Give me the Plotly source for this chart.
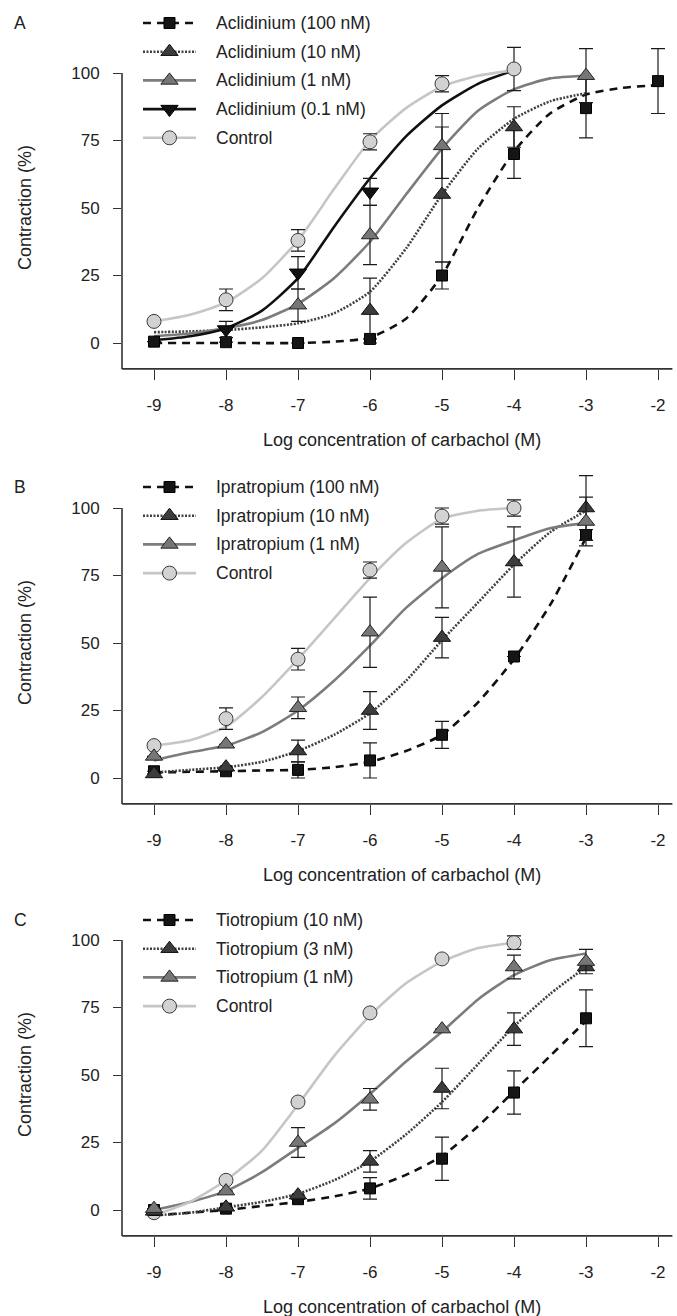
import plotly.graph_objects as go

W, H = 677, 1316

# ------------------------------------------------------------------ data
tick_x_vals = [-9, -8, -7, -6, -5, -4, -3, -2]
tick_x_text = ["-9", "-8", "-7", "-6", "-5", "-4", "-3", "-2"]
tick_y_vals = [0, 25, 50, 75, 100]
tick_y_text = ["0", "25", "50", "75", "100"]
x_title = "Log concentration of carbachol (M)"
y_title = "Contraction (%)"
panel_letters = ["A", "B", "C"]

# Panel A – Aclidinium
A_labels = ["Aclidinium (100 nM)", "Aclidinium (10 nM)", "Aclidinium (1 nM)",
            "Aclidinium (0.1 nM)", "Control"]
A_100_x = [-9, -8, -7, -6, -5, -4, -3, -2]
A_100_y = [0.5, 0.3, 0, 1.5, 25, 70, 87, 97]
A_100_e = [0, 0, 0, 0, 5, 9, 11, 12]
A_10_x = [-6, -5, -4]
A_10_y = [12, 55, 80]
A_10_e = [12, 25, 7.5]
A_1_x = [-7, -6, -5, -3]
A_1_y = [14, 40, 73, 99]
A_1_e = [6, 11, 12, 10]
A_01_x = [-8, -7, -6]
A_01_y = [5, 26, 56]
A_01_e = [3, 6, 5]
A_c_x = [-9, -8, -7, -6, -5, -4]
A_c_y = [8, 16, 38, 74.5, 96, 101.5]
A_c_e = [0, 4, 4, 3, 3, 8]
# fitted curves
A_100_cx = [-9, -8, -7, -6.5, -6, -5.5, -5, -4.5, -4, -3.5, -3, -2.5, -2]
A_100_cy = [0, 0, 0, 0.5, 2, 9, 25, 50, 71, 85, 92, 94.5, 95.5]
A_10_cx = [-9, -8.5, -8, -7.5, -7, -6.5, -6, -5.5, -5, -4.5, -4, -3.5, -3]
A_10_cy = [4, 4.3, 4.8, 5.8, 7.3, 11, 19, 35, 55, 72, 83, 89.5, 92.5]
A_1_cx = [-9, -8.5, -8, -7.5, -7, -6.5, -6, -5.5, -5, -4.5, -4, -3.5, -3]
A_1_cy = [2.5, 3.5, 5.5, 8.5, 14.5, 24, 37.5, 55, 72, 86, 94, 98, 99]
A_01_cx = [-9, -8.5, -8, -7.5, -7, -6.5, -6, -5.5, -5, -4.5, -4]
A_01_cy = [1, 2.5, 5.5, 12, 24, 43, 61, 76.5, 88, 96, 101]
A_c_cx = [-9, -8.5, -8, -7.5, -7, -6.5, -6, -5.5, -5, -4.5, -4]
A_c_cy = [8, 10.5, 15, 24, 38, 57, 75, 87, 95, 99, 101]

# Panel B – Ipratropium
B_labels = ["Ipratropium (100 nM)", "Ipratropium (10 nM)", "Ipratropium (1 nM)", "Control"]
B_100_x = [-9, -8, -7, -6, -5, -4, -3]
B_100_y = [2.5, 2.5, 3, 6.5, 16, 45, 90]
B_100_e = [0, 0, 3, 6.5, 5, 0, 2]
B_10_x = [-9, -8, -7, -6, -5, -4, -3]
B_10_y = [1.5, 4, 10, 25, 52, 80, 100]
B_10_e = [0, 0, 4, 7, 7.5, 13, 12]
B_1_x = [-9, -8, -7, -6, -5, -3]
B_1_y = [8, 12.5, 26, 54, 78, 95]
B_1_e = [0, 0, 4, 13, 15, 9]
B_c_x = [-9, -8, -7, -6, -5, -4]
B_c_y = [12, 22, 44, 77, 97, 100]
B_c_e = [0, 4, 4, 3, 3, 3]
B_100_cx = [-9, -8.5, -8, -7.5, -7, -6.5, -6, -5.5, -5, -4.5, -4, -3.5, -3]
B_100_cy = [2, 2.3, 2.5, 2.8, 3, 4, 6, 10, 16, 28, 44, 64, 89]
B_10_cx = [-9, -8.5, -8, -7.5, -7, -6.5, -6, -5.5, -5, -4.5, -4, -3.5, -3]
B_10_cy = [2, 3, 4, 6, 10, 16, 24, 36, 51, 65, 79, 91, 99]
B_1_cx = [-9, -8.5, -8, -7.5, -7, -6.5, -6, -5.5, -5, -4.5, -4, -3.5, -3]
B_1_cy = [6.5, 9.5, 12, 17, 25, 36, 49, 63, 74, 83, 88, 92.5, 94.5]
B_c_cx = [-9, -8.5, -8, -7.5, -7, -6.5, -6, -5.5, -5, -4.5, -4]
B_c_cy = [12, 14, 19, 30, 44, 59, 74, 87, 96, 99, 100]

# Panel C – Tiotropium
C_labels = ["Tiotropium (10 nM)", "Tiotropium (3 nM)", "Tiotropium (1 nM)", "Control"]
C_10_x = [-9, -8, -7, -6, -5, -4, -3]
C_10_y = [0, 0.5, 4, 8, 19, 43.5, 71]
C_10_e = [0, 0, 0, 4, 8, 8, 10.5]
C_3_x = [-9, -8, -7, -6, -5, -4, -3]
C_3_y = [-0.5, 1, 5.5, 18, 45, 67, 90]
C_3_e = [0, 0, 0, 4, 7.5, 6, 0]
C_1_x = [-9, -8, -7, -6, -5, -4, -3]
C_1_y = [0.5, 7, 25, 41, 67, 90, 92]
C_1_e = [0, 0, 5.5, 4, 0, 4.4, 4.5]
C_c_x = [-9, -8, -7, -6, -5, -4]
C_c_y = [-1, 11, 40, 73, 93, 99]
C_c_e = [0, 0, 0, 0, 0, 2.5]
C_10_cx = [-9, -8.5, -8, -7.5, -7, -6.5, -6, -5.5, -5, -4.5, -4, -3.5, -3]
C_10_cy = [-2, -1, 0, 1.5, 3, 5, 8, 13, 20, 31, 44, 57, 70]
C_3_cx = [-9, -8.5, -8, -7.5, -7, -6.5, -6, -5.5, -5, -4.5, -4, -3.5, -3]
C_3_cy = [-2, -1, 1, 3, 6, 11, 18, 28, 40, 54, 68, 80, 90]
C_1_cx = [-9, -8.5, -8, -7.5, -7, -6.5, -6, -5.5, -5, -4.5, -4, -3.5, -3]
C_1_cy = [0, 3, 7, 14, 23, 32, 43, 55, 66, 78, 87, 92.5, 95]
C_c_cx = [-9, -8.5, -8, -7.5, -7, -6.5, -6, -5.5, -5, -4.5, -4]
C_c_cy = [-2, 3, 11, 22, 39, 57, 72, 84, 92, 97, 99]

# ------------------------------------------------------------------ styles
FONT = "Liberation Sans, Arial, Helvetica, sans-serif"
FS_TICK = 17
FS_LEG = 17.5
FS_TITLE = 18
TXT = "#222222"
AX = "#333333"
EB = "#1a1a1a"

ST = {
    "sq":   dict(line=dict(color="#111111", width=2.6, dash="8px,6px"),
                 marker=dict(symbol="square", size=11, color="#151515", line=dict(color="#000", width=1))),
    "dtri": dict(line=dict(color="#404040", width=2.6, dash="2px,1.5px"),
                 marker=dict(symbol="triangle-up", size=15, color="#3c3c3c", line=dict(color="#111", width=1))),
    "gtri": dict(line=dict(color="#7c7c7c", width=2.6),
                 marker=dict(symbol="triangle-up", size=15, color="#767676", line=dict(color="#222", width=1))),
    "btri": dict(line=dict(color="#111111", width=2.6),
                 marker=dict(symbol="triangle-down", size=15, color="#111111", line=dict(color="#000", width=1))),
    "circ": dict(line=dict(color="#c6c6c6", width=2.6),
                 marker=dict(symbol="circle", size=14, color="#d2d2d2", line=dict(color="#3a3a3a", width=1))),
}

panels = [
    dict(labels=A_labels,
         series=[("sq", A_100_cx, A_100_cy, A_100_x, A_100_y, A_100_e),
                 ("dtri", A_10_cx, A_10_cy, A_10_x, A_10_y, A_10_e),
                 ("gtri", A_1_cx, A_1_cy, A_1_x, A_1_y, A_1_e),
                 ("btri", A_01_cx, A_01_cy, A_01_x, A_01_y, A_01_e),
                 ("circ", A_c_cx, A_c_cy, A_c_x, A_c_y, A_c_e)]),
    dict(labels=B_labels,
         series=[("sq", B_100_cx, B_100_cy, B_100_x, B_100_y, B_100_e),
                 ("dtri", B_10_cx, B_10_cy, B_10_x, B_10_y, B_10_e),
                 ("gtri", B_1_cx, B_1_cy, B_1_x, B_1_y, B_1_e),
                 ("circ", B_c_cx, B_c_cy, B_c_x, B_c_y, B_c_e)]),
    dict(labels=C_labels,
         series=[("sq", C_10_cx, C_10_cy, C_10_x, C_10_y, C_10_e),
                 ("dtri", C_3_cx, C_3_cy, C_3_x, C_3_y, C_3_e),
                 ("gtri", C_1_cx, C_1_cy, C_1_x, C_1_y, C_1_e),
                 ("circ", C_c_cx, C_c_cy, C_c_x, C_c_y, C_c_e)]),
]

# ------------------------------------------------------------------ layout geometry (pixels)
X_AXIS_PX = 122        # y-axis line position
X9_PX = 154            # position of x = -9
DEC_PX = 72            # pixels per decade
X_END = -1.8           # x-axis line end
P100 = [73, 508, 940]  # pixel of y = 100 per panel
KY = 2.7               # pixels per % unit
YMIN, YMAX = -9.6, 115
LEG_X0, LEG_X1, LEG_TX = 143, 196, 214
LEG_DY = 28.7
LEG_Y0 = [23, 487, 920]
LETTER_X = 20
XTITLE_CX = 402

xmin = -9 - (X9_PX - X_AXIS_PX) / DEC_PX
xmax = xmin + (W - X_AXIS_PX) / DEC_PX


def px(x):
    return x / W


def py(y):
    return 1 - y / H


fig = go.Figure()
annotations = []
shapes = []

for i, pan in enumerate(panels):
    n = "" if i == 0 else str(i + 1)
    xa, ya = "x" + n, "y" + n
    p100 = P100[i]
    bot = p100 + (100 - YMIN) * KY
    top = p100 - (YMAX - 100) * KY

    fig.update_layout(**{
        "xaxis" + n: dict(domain=[px(X_AXIS_PX), 1], range=[xmin, xmax], anchor=ya,
                          showgrid=False, zeroline=False, showline=False,
                          tickmode="array", tickvals=tick_x_vals, ticktext=tick_x_text,
                          ticks="outside", ticklen=10, tickwidth=1.3, tickcolor=AX,
                          ticklabelstandoff=11,
                          tickfont=dict(family=FONT, size=FS_TICK, color=TXT)),
        "yaxis" + n: dict(domain=[py(bot), py(top)], range=[YMIN, YMAX], anchor=xa,
                          showgrid=False, zeroline=False, showline=False,
                          tickmode="array", tickvals=tick_y_vals, ticktext=tick_y_text,
                          ticks="outside", ticklen=8, tickwidth=1.3, tickcolor=AX,
                          ticklabelstandoff=10,
                          tickfont=dict(family=FONT, size=FS_TICK, color=TXT)),
    })

    # fitted curves
    for key, cx, cy, x, y, e in pan["series"]:
        fig.add_trace(go.Scatter(x=cx, y=cy, mode="lines",
                                 line=dict(ST[key]["line"], shape="spline", smoothing=0.6),
                                 xaxis=xa, yaxis=ya, showlegend=False, hoverinfo="skip"))
    # points with error bars (control first, so treated series sit on top)
    order = [len(pan["series"]) - 1] + list(range(len(pan["series"]) - 1))
    for j in order:
        key, cx, cy, x, y, e = pan["series"][j]
        fig.add_trace(go.Scatter(x=x, y=y, mode="markers", marker=ST[key]["marker"],
                                 error_y=dict(type="data", array=e, visible=True, color=EB,
                                              thickness=1.2, width=7),
                                 xaxis=xa, yaxis=ya, showlegend=False, cliponaxis=False))

    # axis lines (L-shaped frame, y-axis stops at 100)
    x_end_px = X9_PX + (X_END + 9) * DEC_PX
    shapes.append(dict(type="line", xref="paper", yref="paper",
                       x0=px(X_AXIS_PX), x1=px(X_AXIS_PX), y0=py(bot), y1=py(p100),
                       line=dict(color=AX, width=1.6)))
    shapes.append(dict(type="line", xref="paper", yref="paper",
                       x0=px(X_AXIS_PX), x1=px(x_end_px), y0=py(bot), y1=py(bot),
                       line=dict(color=AX, width=1.6)))

    # axis titles and panel letter
    annotations.append(dict(text=x_title, xref="paper", yref="paper",
                            x=px(XTITLE_CX), y=py(bot + 71), xanchor="center", yanchor="middle",
                            showarrow=False, font=dict(family=FONT, size=FS_TITLE, color=TXT)))
    annotations.append(dict(text=y_title, xref="paper", yref="paper", textangle=-90,
                            x=px(25), y=py(p100 + 50 * KY), xanchor="center", yanchor="middle",
                            showarrow=False, font=dict(family=FONT, size=FS_TITLE, color=TXT)))
    annotations.append(dict(text=panel_letters[i], xref="paper", yref="paper",
                            x=px(LETTER_X), y=py(LEG_Y0[i]), xanchor="center", yanchor="middle",
                            showarrow=False, font=dict(family=FONT, size=FS_LEG, color=TXT)))

    # legend (drawn by hand, one row per series)
    for r, (lab, ser) in enumerate(zip(pan["labels"], pan["series"])):
        key = ser[0]
        yy = LEG_Y0[i] + r * LEG_DY
        fig.add_trace(go.Scatter(x=[LEG_X0, LEG_X1], y=[yy, yy], mode="lines", line=ST[key]["line"],
                                 xaxis="x4", yaxis="y4", showlegend=False, hoverinfo="skip"))
        fig.add_trace(go.Scatter(x=[(LEG_X0 + LEG_X1) / 2], y=[yy], mode="markers", marker=ST[key]["marker"],
                                 xaxis="x4", yaxis="y4", showlegend=False, hoverinfo="skip"))
        annotations.append(dict(text=lab, xref="paper", yref="paper", x=px(LEG_TX), y=py(yy),
                                xanchor="left", yanchor="middle", showarrow=False,
                                font=dict(family=FONT, size=FS_LEG, color=TXT)))

fig.update_layout(
    xaxis4=dict(domain=[0, 1], range=[0, W], visible=False, anchor="y4", fixedrange=True),
    yaxis4=dict(domain=[0, 1], range=[H, 0], visible=False, anchor="x4", fixedrange=True),
    width=W, height=H, margin=dict(l=0, r=0, t=0, b=0),
    paper_bgcolor="white", plot_bgcolor="rgba(0,0,0,0)",
    showlegend=False, annotations=annotations, shapes=shapes,
    font=dict(family=FONT, size=FS_TICK, color=TXT),
)

fig.write_html("out.html")
